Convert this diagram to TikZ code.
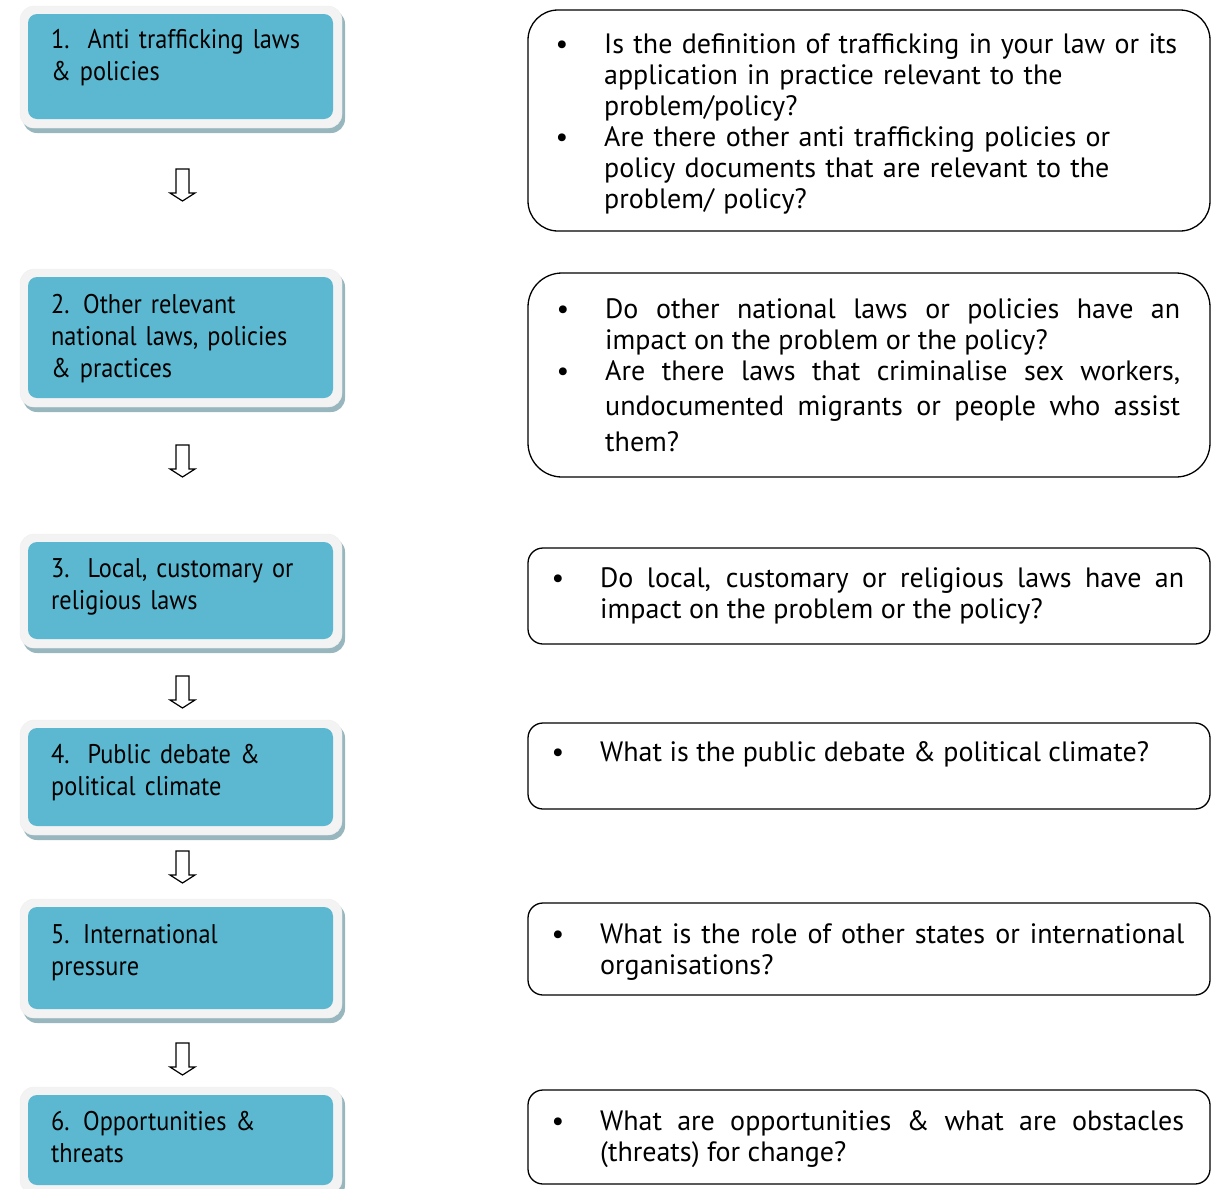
\documentclass[tikz,border=0pt]{standalone}
\usepackage{fontspec}
\setmainfont{PT Sans}
\newfontfamily\stagefont{PT Sans}[FakeStretch=0.9]
\definecolor{boxteal}{HTML}{5BB8D0}
\definecolor{boxrim}{HTML}{F3F3F3}
\definecolor{boxshade}{HTML}{98B6BE}
\tikzset{
  stage/.style={anchor=base west,inner sep=0pt,text width=280pt,align=left,
    font=\stagefont\fontsize{27}{32}\selectfont},
  question/.style={anchor=base west,inner sep=0pt,font=\fontsize{28}{31}\selectfont},
  qframe/.style={draw,line width=1.3pt},
  hollow/.style={draw,line width=1.2pt,fill=white,line join=miter}
}
% teal box with rim and shadow: inner top, inner bottom
\newcommand{\stageframe}[2]{%
  \fill [boxshade,rounded corners=14pt] (23,#1-4)rectangle(345,#2+14);
  \filldraw [fill=boxrim,draw=black!6,rounded corners=14pt] (20,#1-8)rectangle(342,#2+9);
  \fill [boxteal,rounded corners=9pt] (28,#1)rectangle(333,#2);}
% hollow block arrow hanging from a coordinate
\newcommand{\downblock}[1]{%
  \draw [hollow] (#1) ++(-6.5,0)--++(13,0)--++(0,24)--++(6,0)--++(-12.5,8)--++(-12.5,-8)--++(6,0)--cycle;}
\newcommand{\qitem}{\noindent\llap{\textbullet\hspace{36pt}}}
\begin{document}
\begin{tikzpicture}[x=1pt,y=-1pt]
	\useasboundingbox (0,0)rectangle(1211,1189);
	%left column
	\stageframe{14}{119}
	\stageframe{277}{398}
	\stageframe{542}{639}
	\stageframe{728}{826}
	\stageframe{907}{1009}
	\stageframe{1095}{1185}
	\node [stage] (s1) at (51,48) {1.\ \ Anti trafficking laws\\\& policies};
	\node [stage] (s2) at (51,313) {2. Other relevant\\national laws, policies\\\& practices};
	\node [stage] (s3) at (51,577) {3.\ \ Local, customary or\\religious laws};
	\node [stage] (s4) at (51,763) {4.\ \ Public debate \&\\political climate};
	\node [stage] (s5) at (51,943) {5. International\\pressure};
	\node [stage] (s6) at (51,1130) {6. Opportunities \&\\threats};
	\coordinate (a1) at (182.5,169);
	\coordinate (a2) at (182.5,445);
	\coordinate (a3) at (182.5,676);
	\coordinate (a4) at (182.5,851);
	\coordinate (a5) at (182.5,1043);
	\downblock{a1}
	\downblock{a2}
	\downblock{a3}
	\downblock{a4}
	\downblock{a5}
	%right column
	\draw [qframe,rounded corners=30pt] (528,10)rectangle(1210,231);
	\draw [qframe,rounded corners=34pt] (528,273)rectangle(1210,477);
	\draw [qframe,rounded corners=15pt] (528,548)rectangle(1210,644);
	\draw [qframe,rounded corners=15pt] (528,723)rectangle(1210,809);
	\draw [qframe,rounded corners=15pt] (528,903)rectangle(1210,995);
	\draw [qframe,rounded corners=15pt] (528,1090)rectangle(1210,1184);
	\node [question,text width=590pt,align=left] (q1) at (604,53) {%
		\qitem Is the definition of trafficking in your law or its\\application in practice relevant to the\\problem/policy?\par
		\qitem Are there other anti trafficking policies or\\policy documents that are relevant to the\\problem/ policy?};
	\node [question,text width=575pt,align=justify] (q2) at (605,318) {%
		\qitem Do other national laws or policies have an\linebreak impact on the problem or the policy?\par
		\vspace{-4.5pt}{\baselineskip=35.5pt
		\qitem Are there laws that criminalise sex workers,\linebreak undocumented migrants or people who assist\linebreak them?\par}};
	\node [question,text width=584pt,align=justify] (q3) at (600,587) {%
		\qitem Do local, customary or religious laws have an\linebreak impact on the problem or the policy?};
	\node [question,text width=584pt,align=justify] (q4) at (600,761) {%
		\qitem What is the public debate \& political climate?};
	\node [question,text width=584pt,align=justify] (q5) at (600,943) {%
		\qitem What is the role of other states or international\linebreak organisations?};
	\node [question,text width=584pt,align=justify] (q6) at (600,1130) {%
		\qitem What are opportunities \& what are obstacles\linebreak (threats) for change?};
\end{tikzpicture}
\end{document}
